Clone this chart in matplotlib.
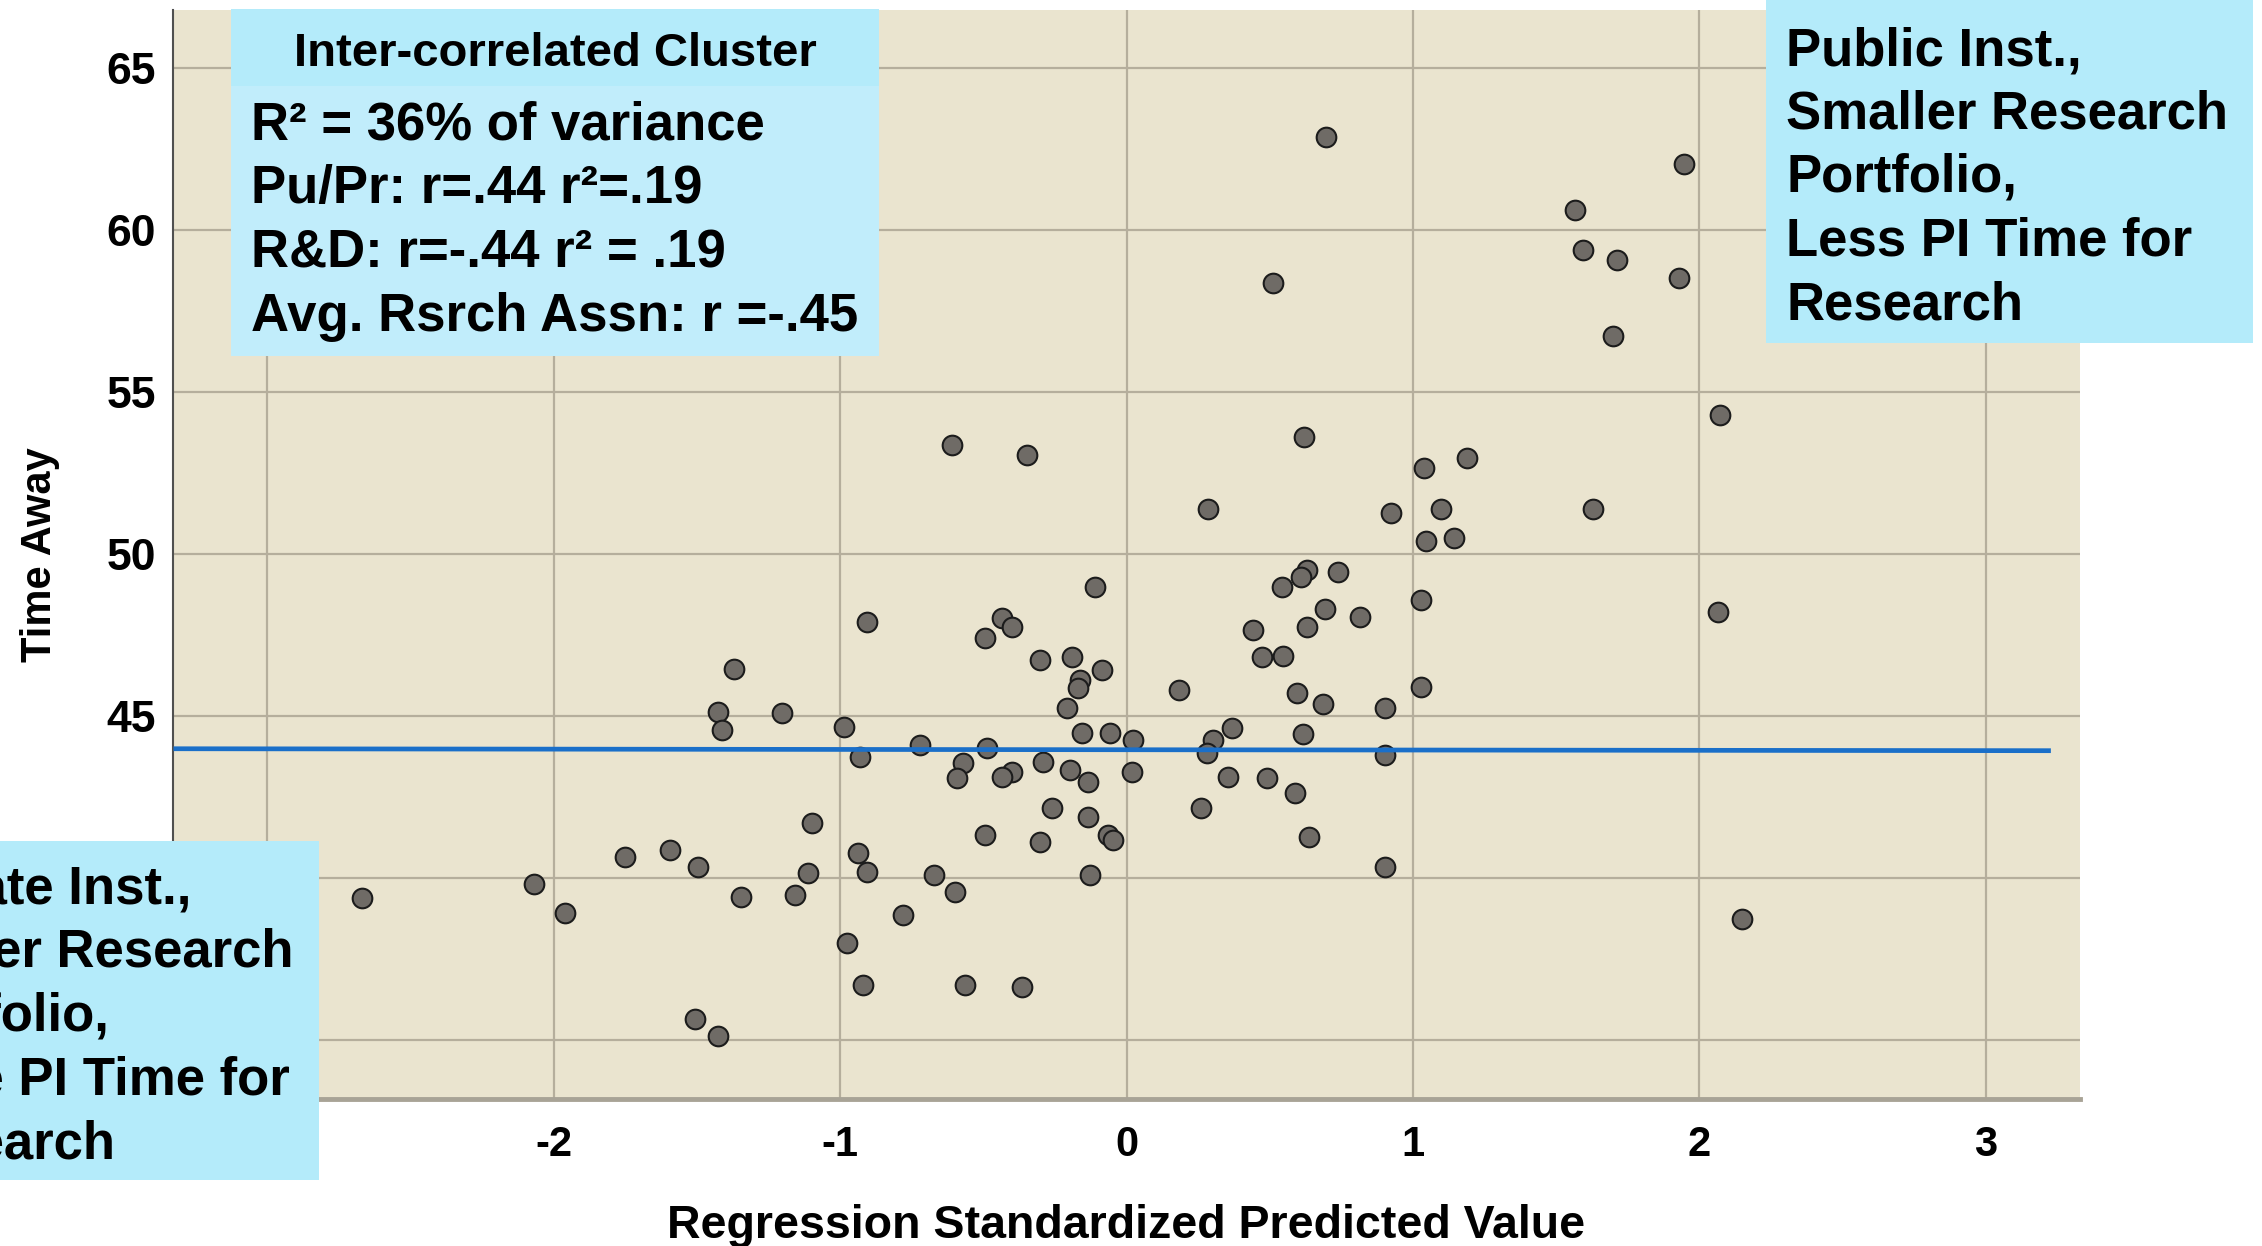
import numpy as np
import matplotlib.pyplot as plt
from matplotlib.patches import Rectangle

plt.rcParams['font.family'] = ['Liberation Sans', 'DejaVu Sans']
plt.rcParams['axes.unicode_minus'] = False

W, H = 2262, 1246  # output size in pixels (dpi 100)

# scatter points: standardized predicted value vs time away
pred_x = [-2.669, -2.070, -1.960, -1.750, -1.593, -1.495, -1.372, -1.425, -1.413, -1.203,
          -1.099, -1.347, -1.111, -1.157, -1.506, -1.428,
          -0.110, -0.907, -0.436, -0.400, -0.494, -0.302, -0.191, -0.087, -0.162, -0.168,
          -0.209, -0.988, -0.156, -0.058, 0.024, -0.720, -0.488, -0.930, -0.570, -0.593,
          -0.400, -0.436, -0.290, -0.197, -0.133, 0.018, -0.260, -0.133, -0.494, -0.302,
          -0.064, -0.046, -0.936, -0.907, -0.674, -0.599, -0.127, -0.779, -0.977, -0.919,
          -0.564, -0.366,
          0.629, 0.611, 0.542, 0.739, 1.030, 0.693, 0.817, 0.443, 0.629, 0.472,
          0.547, 0.184, 1.030, 0.594, 0.687, 0.902, 0.367, 0.617, 0.303, 0.280,
          0.902, 0.355, 0.489, 0.588, 0.259, 0.638, 0.902,
          0.696, 1.946, 1.565, 1.596, 1.713, 1.928, 0.513, 1.700, 2.071, 0.619,
          1.190, 1.038, 0.284, 0.925, 1.100, 1.628, 1.046, 1.143,
          2.065, 2.151, -0.609, -0.347]
time_y = [39.37, 39.81, 38.93, 40.66, 40.86, 40.33, 46.44, 45.13, 44.57, 45.10,
          41.71, 39.42, 40.14, 39.48, 35.64, 35.12,
          48.98, 47.91, 48.02, 47.76, 47.40, 46.73, 46.83, 46.42, 46.11, 45.85,
          45.24, 44.67, 44.47, 44.47, 44.26, 44.10, 44.00, 43.74, 43.54, 43.08,
          43.28, 43.13, 43.59, 43.33, 42.97, 43.28, 42.15, 41.89, 41.33, 41.12,
          41.33, 41.17, 40.76, 40.19, 40.09, 39.58, 40.09, 38.86, 37.98, 36.70,
          36.70, 36.65,
          49.51, 49.30, 48.99, 49.45, 48.58, 48.29, 48.05, 47.65, 47.76, 46.83,
          46.85, 45.80, 45.90, 45.70, 45.37, 45.24, 44.62, 44.44, 44.26, 43.85,
          43.80, 43.13, 43.08, 42.63, 42.15, 41.26, 40.35,
          62.87, 62.05, 60.61, 59.39, 59.08, 58.51, 58.36, 56.72, 54.30, 53.60,
          52.95, 52.67, 51.40, 51.27, 51.40, 51.40, 50.40, 50.50,
          48.20, 38.75, 53.35, 53.07]

# reference line
fit_x = [-3.32, 3.22]
fit_y = [43.99, 43.93]

x_ticks = [-3, -2, -1, 0, 1, 2, 3]
y_ticks = [35, 40, 45, 50, 55, 60, 65]
# tick labels that sit under the lower-left box in the original
hidden_x = [-3]
hidden_y = [35, 40]

cluster_title = 'Inter-correlated Cluster'
cluster_lines = ['R² = 36% of variance', 'Pu/Pr: r=.44 r²=.19',
                 'R&D: r=-.44 r² = .19', 'Avg. Rsrch Assn: r =-.45']
public_lines = ['Public Inst.,', 'Smaller Research', 'Portfolio,',
                'Less PI Time for', 'Research']
private_lines = ['Private Inst.,', 'Larger Research', 'Portfolio,',
                 'More PI Time for', 'Research']


def fx(px):
    return px / W


def fy(py):
    return 1 - py / H


def add_box(fig, x0, y0, x1, y1, color):
    fig.add_artist(Rectangle((fx(x0), fy(y1)), (x1 - x0) / W, (y1 - y0) / H,
                             transform=fig.transFigure, facecolor=color,
                             edgecolor='none', zorder=5))


def add_lines(fig, lines, x, y0, step, size):
    for i, line in enumerate(lines):
        fig.text(fx(x), fy(y0 + i * step), line, fontsize=size, fontweight='bold',
                 ha='left', va='baseline', color='black', zorder=6)


fig = plt.figure(figsize=(W / 100, H / 100), dpi=100)
ax = fig.add_axes([fx(173), fy(1099), (2080 - 173) / W, (1099 - 10) / H])
ax.set_facecolor('#eae4cf')

ax.scatter(pred_x, time_y, s=200, c='#6f6b66', edgecolors='#1c1c1c',
           linewidths=1.5, zorder=3)
ax.plot(fit_x, fit_y, color='#1a6fc9', lw=3.4, zorder=4)

ax.set_xlim(-3.33, 3.33)
ax.set_ylim(33.18, 66.79)
ax.set_xticks(x_ticks)
ax.set_yticks(y_ticks)
ax.grid(True, color='#b5ae9c', lw=1.6)
ax.set_axisbelow(True)
ax.tick_params(length=0)
ax.tick_params(axis='x', labelsize=30, pad=19)
ax.tick_params(axis='y', labelsize=32, pad=12)
for lab in ax.get_xticklabels() + ax.get_yticklabels():
    lab.set_fontweight('bold')
for tick, lab in zip(x_ticks, ax.get_xticklabels()):
    lab.set_visible(tick not in hidden_x)
for tick, lab in zip(y_ticks, ax.get_yticklabels()):
    lab.set_visible(tick not in hidden_y)

for side in ['top', 'right']:
    ax.spines[side].set_visible(False)
ax.spines['left'].set_color('#505050')
ax.spines['left'].set_linewidth(1.5)
ax.spines['bottom'].set_color('#a8a396')
ax.spines['bottom'].set_linewidth(3.5)

ax.set_xlabel('Regression Standardized Predicted Value', fontsize=33.5,
              fontweight='bold')
ax.xaxis.label.set_va('center')
ax.xaxis.set_label_coords(0.5, -0.1166)
ax.set_ylabel('Time Away', fontsize=30, fontweight='bold')
ax.yaxis.label.set_va('center')
ax.yaxis.set_label_coords(-0.0697, 0.5)

# annotation boxes
add_box(fig, 231, 9, 879, 356, '#c1edfb')
add_box(fig, 231, 9, 879, 86, '#b4ebfa')
fig.text(fx(555), fy(66), cluster_title, fontsize=34, fontweight='bold',
         ha='center', va='baseline', zorder=6)
add_lines(fig, cluster_lines, 251, 140, 63.5, 38)

add_box(fig, 1766, 0, 2253, 343, '#b4ebfa')
add_lines(fig, public_lines, 1786, 65, 63.5, 38)

add_box(fig, 0, 841, 319, 1180, '#b4ebfa')
add_lines(fig, private_lines, -122, 903, 63.8, 38)

fig.savefig('out.png', dpi=100)
